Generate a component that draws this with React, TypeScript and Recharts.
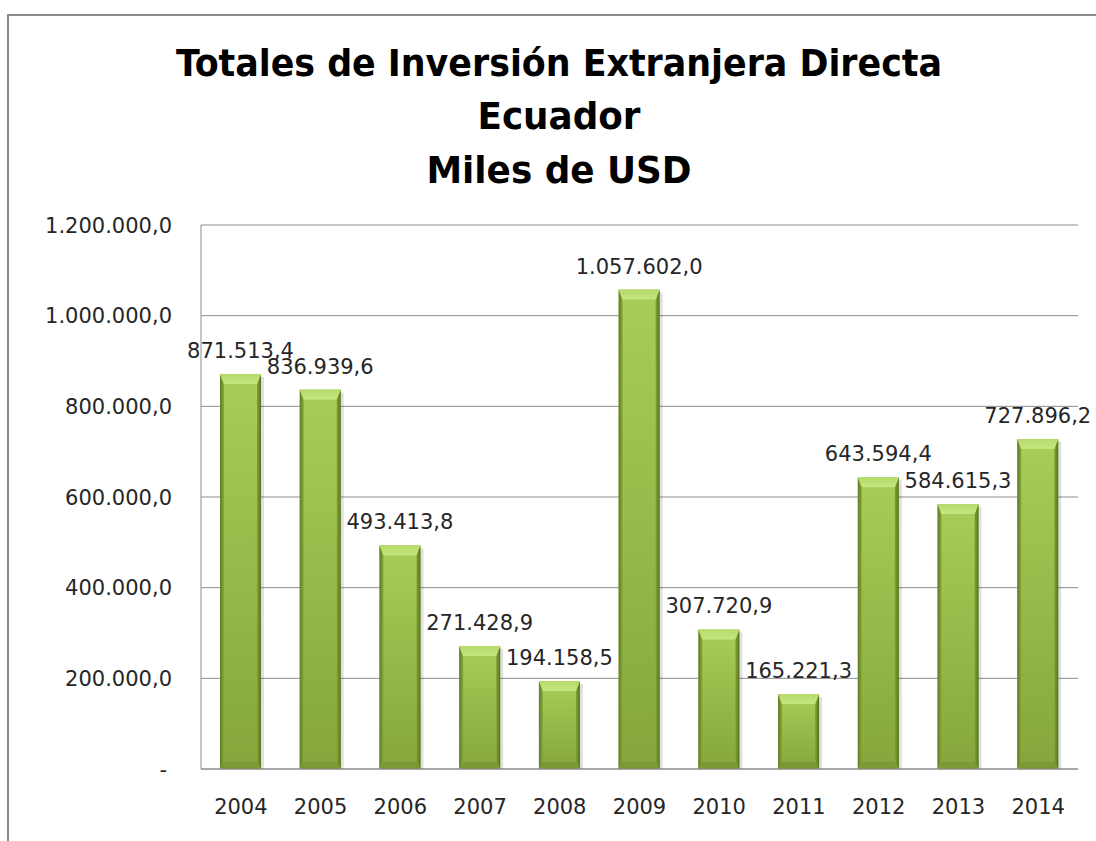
import { BarChart, Bar, XAxis, YAxis, CartesianGrid, LabelList } from "recharts";

const years = ["2004", "2005", "2006", "2007", "2008", "2009", "2010", "2011", "2012", "2013", "2014"];
const totals = [871513.4, 836939.6, 493413.8, 271428.9, 194158.5, 1057602.0, 307720.9, 165221.3, 643594.4, 584615.3, 727896.2];
const yTicks = [0, 200000, 400000, 600000, 800000, 1000000, 1200000];
const titleLines = ["Totales de Inversión Extranjera Directa", "Ecuador", "Miles de USD"];

const data = years.map((y, i) => ({ year: y, total: totals[i] }));

const FONT = "'DejaVu Sans', sans-serif";
const TITLE_FONT = "'Liberation Sans Narrow', 'DejaVu Sans Condensed', 'Open Sans', sans-serif";
const TEXT = "#262626";
const GRID = "#8c8c8c";

// 1234567.8 -> "1.234.567,8"
function fmt(v: number) {
  if (v === 0) return "-";
  const [int, dec] = v.toFixed(1).split(".");
  return int.replace(/\B(?=(\d{3})+(?!\d))/g, ".") + "," + dec;
}

function BevelBar(props: any) {
  const { x, y, width: w, height: h } = props;
  if (!h || h <= 0) return null;
  const t = Math.min(10, h / 2, w / 4);
  const s = Math.min(4, w / 6);
  const bt = Math.min(7, h / 3);
  return (
    <g>
      <rect x={x + 3} y={y + 3} width={w} height={h - 3} fill="rgba(0,0,0,0.12)" />
      <rect x={x} y={y} width={w} height={h} fill="url(#barBody)" />
      <polygon points={`${x},${y} ${x + s},${y + t} ${x + s},${y + h - bt} ${x},${y + h}`} fill="url(#barLeft)" />
      <polygon points={`${x + w},${y} ${x + w - s},${y + t} ${x + w - s},${y + h - bt} ${x + w},${y + h}`} fill="url(#barRight)" />
      <polygon points={`${x},${y} ${x + w},${y} ${x + w - s},${y + t} ${x + s},${y + t}`} fill="url(#barTop)" />
      <polygon points={`${x},${y + h} ${x + w},${y + h} ${x + w - s},${y + h - bt} ${x + s},${y + h - bt}`} fill="#7b9a35" />
    </g>
  );
}

function YTick(props: any) {
  const { x, y, payload } = props;
  const zero = payload.value === 0;
  return (
    <text x={x - (zero ? 5 : 0)} y={y} dy="0.36em" textAnchor="end" fontFamily={FONT} fontSize={21} fill={TEXT}>
      {fmt(payload.value)}
    </text>
  );
}

export default function App() {
  return (
    <div style={{ position: "fixed", left: 0, top: 0, width: 1096, height: 841, overflow: "hidden", background: "#fff" }}>
      <div
        style={{
          position: "absolute",
          left: 7,
          top: 14,
          width: 1200,
          height: 900,
          borderLeft: "2px solid #8a8a8a",
          borderTop: "2px solid #8a8a8a",
        }}
      />
      <svg width={1096} height={230} style={{ position: "absolute", left: 0, top: 0 }}>
        <text x={559} y={76} textAnchor="middle" fontFamily={TITLE_FONT} fontWeight="bold" fontSize={38} fill="#000" textLength={766} lengthAdjust="spacingAndGlyphs">
          {titleLines[0]}
        </text>
        <text x={559} y={129} textAnchor="middle" fontFamily={TITLE_FONT} fontWeight="bold" fontSize={38} fill="#000" textLength={163} lengthAdjust="spacingAndGlyphs">
          {titleLines[1]}
        </text>
        <text x={559} y={183} textAnchor="middle" fontFamily={TITLE_FONT} fontWeight="bold" fontSize={38} fill="#000" textLength={265} lengthAdjust="spacingAndGlyphs">
          {titleLines[2]}
        </text>
      </svg>
      <div style={{ position: "absolute", left: 0, top: 0 }}>
        <BarChart width={1096} height={841} data={data} margin={{ top: 225, right: 18, bottom: 22, left: 8 }}>
          <defs>
            <linearGradient id="barBody" x1="0" y1="0" x2="0" y2="1">
              <stop offset="0%" stopColor="#a7ce58" />
              <stop offset="100%" stopColor="#86a63b" />
            </linearGradient>
            <linearGradient id="barTop" x1="0" y1="0" x2="0" y2="1">
              <stop offset="0%" stopColor="#b5da6a" />
              <stop offset="100%" stopColor="#c6e680" />
            </linearGradient>
            <linearGradient id="barLeft" x1="0" y1="0" x2="1" y2="0">
              <stop offset="0%" stopColor="#5f7d22" />
              <stop offset="100%" stopColor="#87a83d" />
            </linearGradient>
            <linearGradient id="barRight" x1="0" y1="0" x2="1" y2="0">
              <stop offset="0%" stopColor="#82a239" />
              <stop offset="100%" stopColor="#56731e" />
            </linearGradient>
          </defs>
          <CartesianGrid vertical={false} stroke={GRID} />
          <XAxis
            dataKey="year"
            axisLine={{ stroke: GRID }}
            tickLine={false}
            tickSize={0}
            tickMargin={30}
            height={50}
            tick={{ fontFamily: FONT, fontSize: 21, fill: TEXT }}
          />
          <YAxis
            domain={[0, 1200000]}
            ticks={yTicks}
            axisLine={{ stroke: GRID }}
            tickLine={false}
            tickSize={0}
            tickMargin={29}
            width={193}
            tick={<YTick />}
          />
          <Bar dataKey="total" barSize={41} shape={<BevelBar />} isAnimationActive={false}>
            <LabelList
              dataKey="total"
              position="top"
              offset={16}
              formatter={(v: any) => fmt(Number(v))}
              style={{ fontFamily: FONT, fontSize: 21, fill: TEXT }}
            />
          </Bar>
        </BarChart>
      </div>
    </div>
  );
}
